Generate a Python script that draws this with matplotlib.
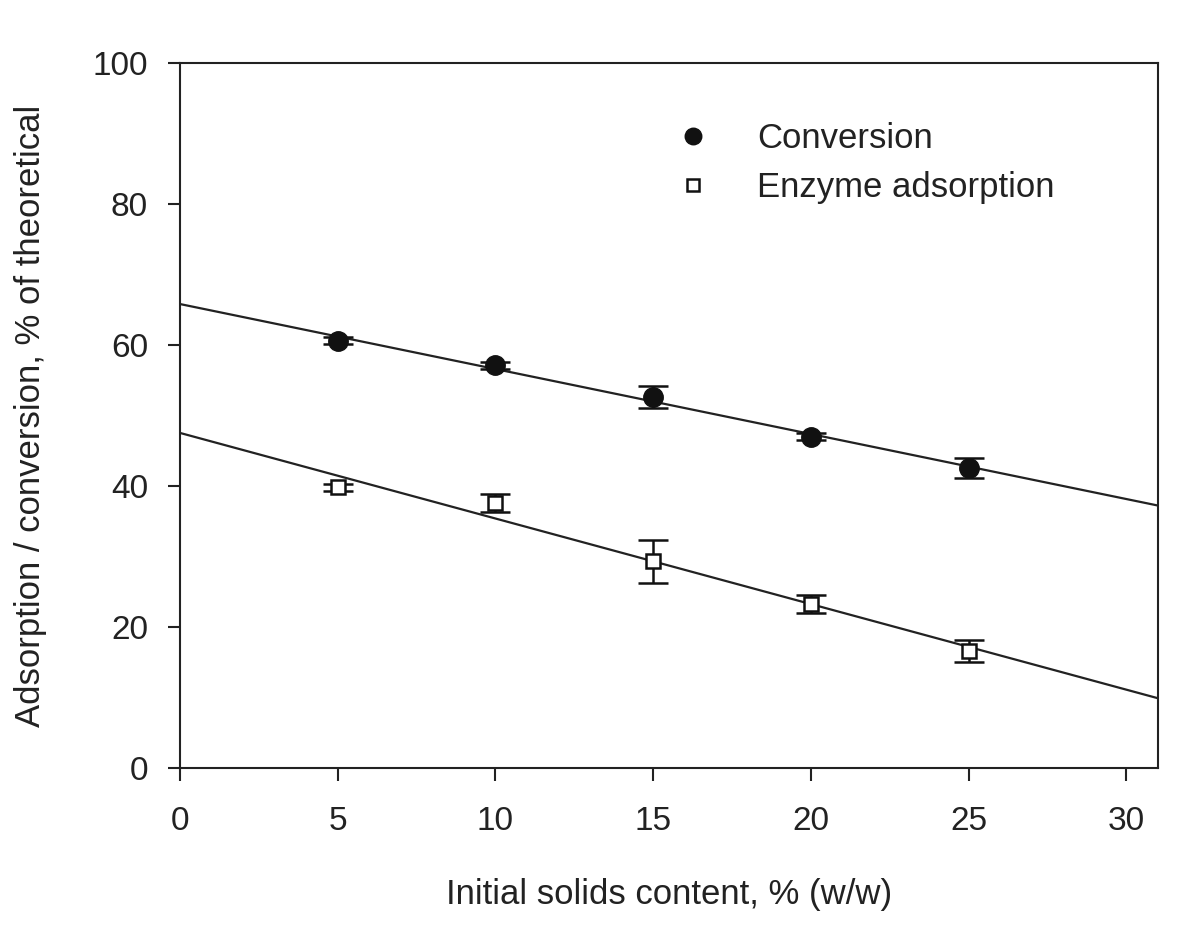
import numpy as np
import matplotlib.pyplot as plt

plt.rcParams['font.family'] = ['Liberation Sans', 'DejaVu Sans']

solids = [5, 10, 15, 20, 25]
conversion = [60.6, 57.1, 52.6, 47.0, 42.6]
conversion_err = [0.5, 0.5, 1.6, 0.5, 1.4]
adsorption = [39.8, 37.6, 29.3, 23.3, 16.6]
adsorption_err = [0.5, 1.3, 3.0, 1.3, 1.5]


def main():
    fig = plt.figure(figsize=(12, 9.25), dpi=100)
    ax = fig.add_axes([0.15, 0.1697, 0.815, 0.7622])

    # linear fits over the whole x range
    xx = np.array([0, 31])
    for y in (conversion, adsorption):
        p = np.polyfit(solids, y, 1)
        ax.plot(xx, np.polyval(p, xx), color='#222222', lw=1.6, zorder=1)

    ax.errorbar(solids, conversion, yerr=conversion_err, fmt='o', color='#111111',
                ms=14, capsize=11, capthick=1.8, elinewidth=1.8, label='Conversion', zorder=3)
    ax.errorbar(solids, adsorption, yerr=adsorption_err, fmt='s', mfc='white', mec='#111111',
                mew=1.8, color='#111111', ms=10, capsize=11, capthick=1.8, elinewidth=1.8,
                label='Enzyme adsorption', zorder=3)

    ax.set_xlim(0, 31)
    ax.set_ylim(0, 100)
    ax.set_xticks([0, 5, 10, 15, 20, 25, 30])
    ax.set_yticks([0, 20, 40, 60, 80, 100])
    ax.tick_params(direction='out', length=9, width=1.5, labelsize=24, pad=14, colors='#222222')
    ax.tick_params(axis='x', pad=18)
    for s in ax.spines.values():
        s.set_linewidth(1.5)
        s.set_color('#222222')

    ax.set_xlabel('Initial solids content, % (w/w)', fontsize=25, labelpad=30, color='#222222')
    ax.set_ylabel('Adsorption / conversion, % of theoretical', fontsize=25, labelpad=33,
                  color='#222222')

    h, l = ax.get_legend_handles_labels()
    h = [hh[0] for hh in h]
    leg = ax.legend(h, l, loc='upper left', bbox_to_anchor=(0.475, 0.96), frameon=False,
                    fontsize=25, handlelength=1.0, handletextpad=1.35, labelspacing=0.45,
                    markerscale=0.85)
    for t in leg.get_texts():
        t.set_color('#222222')

    fig.savefig('out.png', dpi=100)


if __name__ == '__main__':
    main()
